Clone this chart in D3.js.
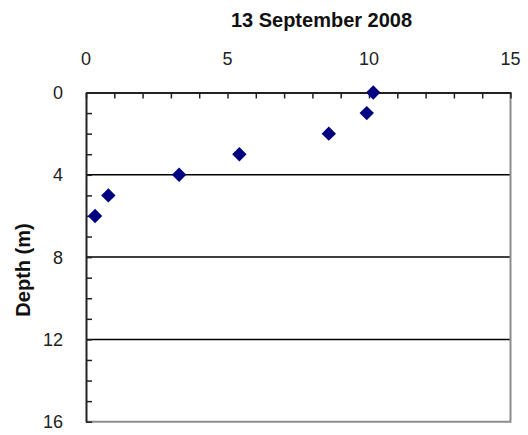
<!DOCTYPE html>
<html><head><meta charset="utf-8">
<script src="https://cdn.jsdelivr.net/npm/d3@7"></script>
<style>body{margin:0;background:#fff}svg{display:block}text{font-family:"Liberation Sans",Arial,sans-serif}</style>
</head><body><svg id="c" width="528" height="435"></svg>
<script>
const depths = [0, 1, 2, 3, 4, 5, 6];
const values = [10.15, 9.92, 8.58, 5.42, 3.29, 0.79, 0.32];
const xTicks = [0, 5, 10, 15];
const yTicks = [0, 4, 8, 12, 16];
const gridDepths = [4, 8, 12];
const title = "13 September 2008";
const yTitle = "Depth (m)";

const svg = d3.select("#c");
const L = 86, R = 510.5, T = 92.5, B = 421.7;
const x = d3.scaleLinear().domain([0, 15]).range([L, R]);
const y = d3.scaleLinear().domain([0, 16]).range([T, B]);

// gridlines
svg.selectAll("line.grid").data(gridDepths).join("line")
  .attr("x1", L).attr("x2", R).attr("y1", d => y(d)).attr("y2", d => y(d))
  .attr("stroke", "#000").attr("stroke-width", 1.5);

// right & bottom border (gray)
svg.append("path").attr("d", `M${R},${T}V${B}H${L}`)
  .attr("fill", "none").attr("stroke", "#8c8c8c").attr("stroke-width", 2);

// top axis
const xAxis = d3.axisTop(x).tickValues(d3.range(0, 16)).tickSize(-6).tickFormat("").tickSizeOuter(0);
const gx = svg.append("g").attr("transform", `translate(0,${T})`).call(xAxis);
gx.select(".domain").attr("stroke", "#222").attr("stroke-width", 2);
gx.selectAll(".tick line").attr("stroke", "#222").attr("stroke-width", 1.5);
svg.selectAll("text.xl").data(xTicks).join("text")
  .attr("x", d => x(d)).attr("y", 65).attr("text-anchor", "middle")
  .attr("font-size", 18).attr("fill", "#222").text(d => d);

// left axis
const yAxis = d3.axisLeft(y).tickValues(d3.range(0, 17)).tickSize(-6).tickFormat("").tickSizeOuter(0);
const gy = svg.append("g").attr("transform", `translate(${L},0)`).call(yAxis);
gy.select(".domain").attr("stroke", "#222").attr("stroke-width", 2);
gy.selectAll(".tick line").attr("stroke", "#222").attr("stroke-width", 1.5);
svg.selectAll("text.yl").data(yTicks).join("text")
  .attr("x", 63).attr("y", d => y(d)).attr("dy", "0.36em").attr("text-anchor", "end")
  .attr("font-size", 18).attr("fill", "#222").text(d => d);

// points
const pts = depths.map((d, i) => ({ d, v: values[i] }));
const h = 7.2;
svg.selectAll("path.pt").data(pts).join("path")
  .attr("transform", p => `translate(${x(p.v)},${y(p.d)})`)
  .attr("d", `M0,${-h}L${h},0L0,${h}L${-h},0Z`)
  .attr("fill", "#000080");

// titles
svg.append("text").attr("x", 321.5).attr("y", 27).attr("text-anchor", "middle")
  .attr("font-size", 20).attr("font-weight", "bold").attr("fill", "#111").text(title);
svg.append("text").attr("transform", "translate(30,270) rotate(-90)").attr("text-anchor", "middle")
  .attr("font-size", 20).attr("font-weight", "bold").attr("fill", "#111").text(yTitle);
</script></body></html>
